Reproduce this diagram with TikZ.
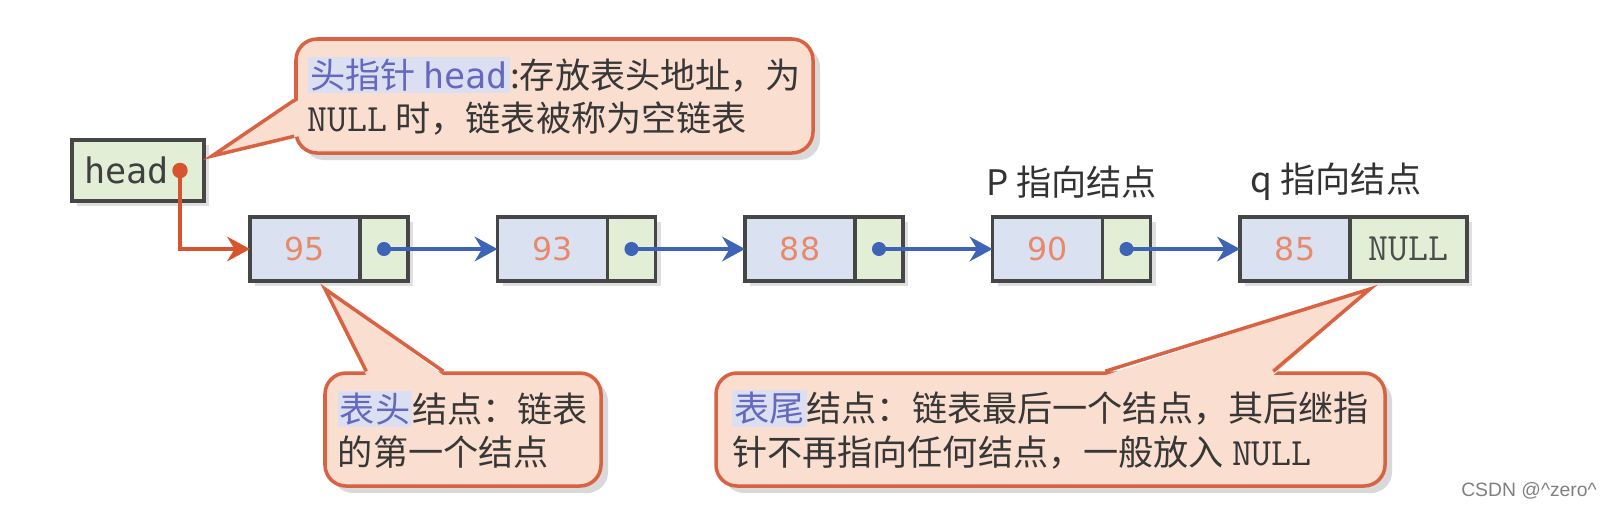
\documentclass[tikz,border=0pt]{standalone}
\usepackage{fontspec}
\setmainfont{Noto Sans CJK SC}
\newfontfamily\cjk{Noto Sans CJK SC}
\newfontfamily\headmono{DejaVu Sans Mono}
\newfontfamily\numfont{DejaVu Sans}
\newfontfamily\markfont{Liberation Sans}
\usetikzlibrary{arrows.meta,positioning,calc,shadows}
\definecolor{llgreen}{RGB}{226,239,214}
\definecolor{llblue}{RGB}{218,225,240}
\definecolor{lledge}{RGB}{70,70,70}
\definecolor{llnum}{RGB}{232,137,105}
\definecolor{llarrow}{RGB}{63,100,181}
\definecolor{llorange}{RGB}{214,84,46}
\definecolor{calfill}{RGB}{250,222,208}
\definecolor{caledge}{RGB}{217,98,66}
\definecolor{caltext}{RGB}{55,55,55}
\definecolor{hlblue}{RGB}{100,105,190}
\definecolor{hlback}{RGB}{220,223,242}

\newcommand{\hlword}[1]{{\setlength{\fboxsep}{0.6pt}\colorbox{hlback}{\textcolor{hlblue}{#1}}}}
\newcommand{\nullword}{{\ttfamily\fontsize{11}{12}\selectfont NULL}}

\tikzset{
  cellbase/.style={draw=lledge, line width=0.9pt, outer sep=0pt, minimum height=0.64cm, inner sep=0pt,
    drop shadow={shadow xshift=1.5pt, shadow yshift=-1.5pt, opacity=0.25}},
  datacell/.style={cellbase, fill=llblue, minimum width=1.10cm, font=\numfont\fontsize{9}{10}\selectfont, text=llnum},
  ptrcell/.style={cellbase, fill=llgreen, minimum width=0.48cm},
  nextarrow/.style={llarrow, line width=1pt, -{Stealth[length=6.5pt,width=7pt]}},
  calloutbox/.style={draw=caledge, line width=1pt, fill=calfill, rounded corners=6pt, align=left, text=caltext,
    font=\cjk\fontsize{10}{12.3}\selectfont, drop shadow={shadow xshift=2pt, shadow yshift=-2pt, opacity=0.3}},
  pointerfill/.style={fill=calfill},
  pointerline/.style={draw=caledge, line width=1pt},
  tagtext/.style={font=\cjk\fontsize{10}{12}\selectfont, text=black!80},
}

\begin{document}
\begin{tikzpicture}
  \useasboundingbox (0,0) rectangle (16.03,5.10);

  % head pointer
  \node[cellbase, fill=llgreen, minimum height=0.61cm, text width=1.08cm, inner xsep=0.12cm, align=left,
    font=\headmono\fontsize{10}{12}\selectfont, text=black!75] (head) at (1.38,3.395) {head};

  % list nodes
  \foreach \v [count=\i] in {95,93,88,90,85}
    \node[datacell, anchor=west] (d\i) at ({2.50+2.475*(\i-1)},2.61) {\v};
  \foreach \i in {1,...,4}
    \node[ptrcell, right=0pt of d\i] (p\i) {};
  \node[ptrcell, minimum width=1.17cm, text=black!70, right=0pt of d5] (p5) {\nullword};

  % links
  \foreach \i [count=\j from 2] in {1,...,4} {
    \draw[nextarrow] (p\i.center) -- (d\j.west);
    \fill[llarrow] (p\i.center) circle (2pt);
  }
  \coordinate (hdot) at ($(head.east)+(-0.24,0)$);
  \draw[llorange, line width=1pt, -{Stealth[length=6.5pt,width=7pt]}] (hdot) |- (d1.west);
  \fill[llorange] (hdot) circle (2.2pt);

  % p and q labels
  \node[tagtext] (ptag) at ($(d4.north)+(0.24,0.35)$) {P 指向结点};
  \node[tagtext] (qtag) at ($(d5.north)+(0.41,0.35)$) {q 指向结点};

  % callout: head pointer
  \node[calloutbox, minimum width=5.17cm, minimum height=1.14cm] (c1) at (5.545,4.14)
    {\hlword{头指针 {\headmono head}}:存放表头地址，为\\\nullword{} 时，链表被称为空链表};
  \coordinate (tip1) at ($(head.east)+(0.08,0.145)$);
  \fill[pointerfill] ($(c1.north west)+(0.04,-0.63)$) -- (tip1) -- ($(c1.north west)+(0.04,-0.99)$) -- cycle;
  \draw[pointerline] ($(c1.north west)+(0,-0.63)$) -- (tip1) -- ($(c1.north west)+(0,-0.99)$);

  % callout: first node
  \node[calloutbox, minimum width=2.76cm, minimum height=1.13cm] (c2) at (4.63,0.805)
    {\hlword{表头}结点：链表\\的第一个结点};
  \coordinate (tip2) at ($(d1.south)+(0.20,-0.08)$);
  \fill[pointerfill] ($(c2.north west)+(0.43,-0.04)$) -- (tip2) -- ($(c2.north west)+(1.20,-0.04)$) -- cycle;
  \draw[pointerline] ($(c2.north west)+(0.43,0)$) -- (tip2) -- ($(c2.north west)+(1.20,0)$);

  % callout: last node
  \node[calloutbox, minimum width=6.69cm, minimum height=1.13cm] (c3) at (10.505,0.805)
    {\hlword{表尾}结点：链表最后一个结点，其后继指\\针不再指向任何结点，一般放入 \nullword};
  \coordinate (tip3) at ($(p5.south west)+(0.20,-0.08)$);
  \fill[pointerfill] ($(c3.north west)+(3.91,-0.04)$) -- (tip3) -- ($(c3.north west)+(5.59,-0.04)$) -- cycle;
  \draw[pointerline] ($(c3.north west)+(3.91,0)$) -- (tip3) -- ($(c3.north west)+(5.59,0)$);

  % watermark
  \node[font=\markfont\fontsize{5.5}{6}\selectfont, text=black!50] (mark) at (15.29,0.19) {CSDN @\textasciicircum zero\textasciicircum};
\end{tikzpicture}
\end{document}
